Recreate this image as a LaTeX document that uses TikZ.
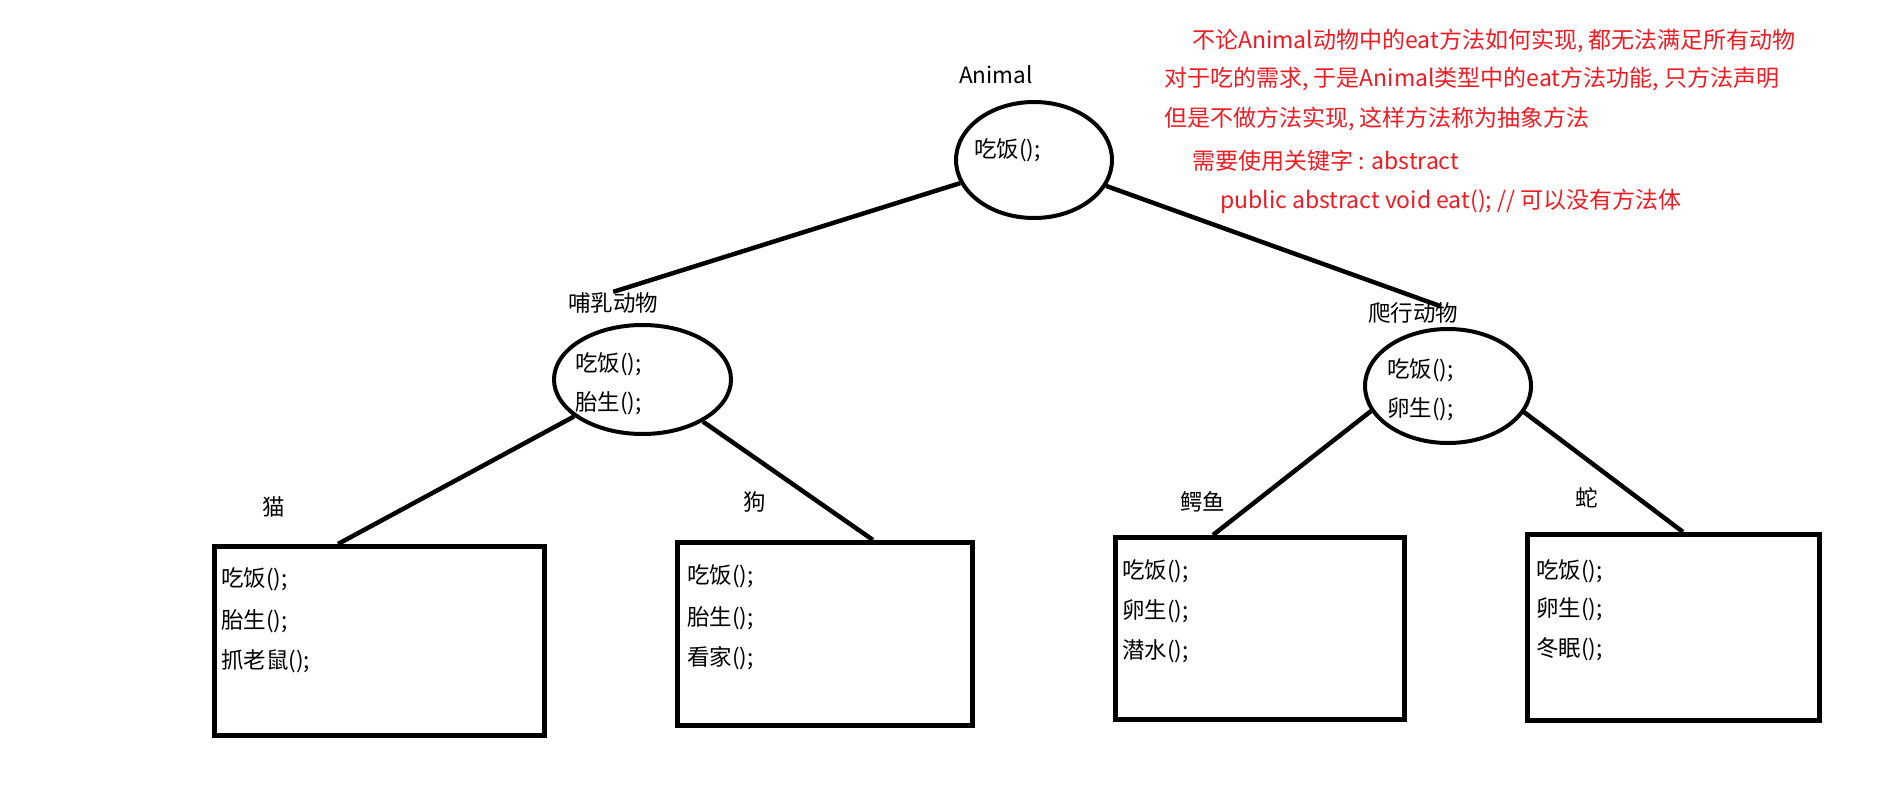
\documentclass[tikz,border=0pt]{standalone}
\usepackage{fontspec}
\setmainfont{Noto Sans CJK SC}
\usetikzlibrary{shapes.geometric}
\definecolor{noteRed}{RGB}{237,28,36}
\tikzset{
  klass/.style={draw, ellipse, line width=4pt, inner sep=0pt},
  leaf/.style={draw, rectangle, line width=5pt, inner sep=0pt},
  tag/.style={anchor=base west, inner sep=0pt, font=\fontsize{22.5}{27}\selectfont},
  member/.style={tag},
  note/.style={anchor=base west, inner sep=0pt, text=noteRed, font=\fontsize{23}{28}\selectfont},
  link/.style={line width=4.5pt}
}

\begin{document}
\begin{tikzpicture}[x=1pt,y=-1pt]
  \useasboundingbox (0,0) rectangle (1895,787);

  % top class
  \node[tag] (animallbl) at (959,83) {Animal};
  \node[klass, minimum width=156pt, minimum height=116pt] (animal) at (1034,160) {};
  \node[member] (animaleat) at (974,157) {吃饭();};

  % second level
  \node[tag] (mamlbl) at (568,311) {哺乳动物};
  \node[klass, minimum width=177pt, minimum height=109pt] (mammal) at (642.5,379.5) {};
  \node[member] (mameat) at (575,371) {吃饭();};
  \node[member] (mambirth) at (575,410) {胎生();};

  \node[tag] (replbl) at (1368,321) {爬行动物};
  \node[klass, minimum width=166pt, minimum height=114pt] (reptile) at (1448,386) {};
  \node[member] (repeat) at (1387,377) {吃饭();};
  \node[member] (repegg) at (1387,416) {卵生();};
  \coordinate (reptip) at (1440,306);

  \draw[link] (animal) -- (mamlbl.north);
  \draw[link] (animal) -- (reptip);

  % leaves
  \node[tag] (catlbl) at (262,515) {猫};
  \node[leaf, minimum width=330pt, minimum height=189pt] (cat) at (379.5,641) {};
  \node[member] (cat1) at (221,586) {吃饭();};
  \node[member] (cat2) at (221,628) {胎生();};
  \node[member] (cat3) at (221,668) {抓老鼠();};

  \node[tag] (doglbl) at (743,510) {狗};
  \node[leaf, minimum width=295pt, minimum height=183pt] (dog) at (825,634) {};
  \node[member] (dog1) at (687,583) {吃饭();};
  \node[member] (dog2) at (687,625) {胎生();};
  \node[member] (dog3) at (687,665) {看家();};

  \node[tag] (croclbl) at (1180,510) {鳄鱼};
  \node[leaf, minimum width=289pt, minimum height=182pt] (croc) at (1260,628.5) {};
  \node[member] (croc1) at (1122,578) {吃饭();};
  \node[member] (croc2) at (1122,618) {卵生();};
  \node[member] (croc3) at (1122,658) {潜水();};

  \node[tag] (snakelbl) at (1575,506) {蛇};
  \node[leaf, minimum width=292pt, minimum height=186pt] (snake) at (1673.5,627.5) {};
  \node[member] (snake1) at (1536,578) {吃饭();};
  \node[member] (snake2) at (1536,616) {卵生();};
  \node[member] (snake3) at (1536,656) {冬眠();};

  \draw[link] (mammal) -- ([xshift=-41.5pt]cat.north);
  \draw[link] (mammal) -- ([xshift=48pt]dog.north);
  \draw[link] (reptile.198) -- ([xshift=-47pt]croc.north);
  \draw[link] (reptile.341) -- ([xshift=9.5pt]snake.north);

  % note
  \node[note] (note1) at (1192,48) {不论Animal动物中的eat方法如何实现, 都无法满足所有动物};
  \node[note] (note2) at (1164,86) {对于吃的需求, 于是Animal类型中的eat方法功能, 只方法声明};
  \node[note] (note3) at (1164,126) {但是不做方法实现, 这样方法称为抽象方法};
  \node[note] (note4) at (1192,169) {需要使用关键字 : abstract};
  \node[note] (note5) at (1220,208) {public abstract void eat(); // 可以没有方法体};
\end{tikzpicture}
\end{document}
